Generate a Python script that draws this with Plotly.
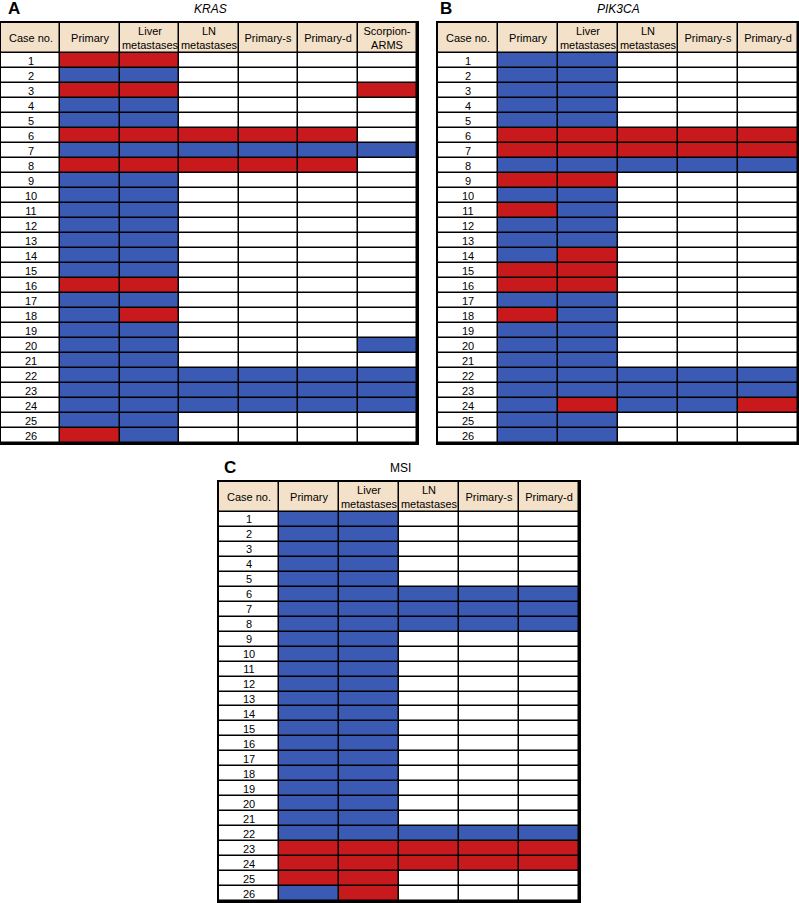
import plotly.graph_objects as go

# status per case: R = mutant/MSI-high (red), B = wild type/MSS (blue), - = not analysed (white)
cases = list(range(1, 27))

kras_cols = ["Case no.", "Primary", "Liver<br>metastases", "LN<br>metastases",
             "Primary-s", "Primary-d", "Scorpion-<br>ARMS"]
kras_status = ["RR----", "BB----", "RR---R", "BB----", "BB----", "RRRRR-",
               "BBBBBB", "RRRRR-", "BB----", "BB----", "BB----", "BB----",
               "BB----", "BB----", "BB----", "RR----", "BB----", "BR----",
               "BB----", "BB---B", "BB----", "BBBBBB", "BBBBBB", "BBBBBB",
               "BB----", "RB----"]

pik3ca_cols = ["Case no.", "Primary", "Liver<br>metastases", "LN<br>metastases",
               "Primary-s", "Primary-d"]
pik3ca_status = ["BB---", "BB---", "BB---", "BB---", "BB---", "RRRRR",
                 "RRRRR", "BBBBB", "RR---", "BB---", "RB---", "BB---",
                 "BB---", "BR---", "RR---", "RR---", "BB---", "RB---",
                 "BB---", "BB---", "BB---", "BBBBB", "BBBBB", "BRBBR",
                 "BB---", "BB---"]

msi_cols = ["Case no.", "Primary", "Liver<br>metastases", "LN<br>metastases",
            "Primary-s", "Primary-d"]
msi_status = ["BB---", "BB---", "BB---", "BB---", "BB---", "BBBBB",
              "BBBBB", "BBBBB", "BB---", "BB---", "BB---", "BB---",
              "BB---", "BB---", "BB---", "BB---", "BB---", "BB---",
              "BB---", "BB---", "BB---", "BBBBB", "RRRRR", "RRRRR",
              "RR---", "BR---"]

W, H = 799, 903
RED, BLUE, WHITE, BEIGE = "#c8191d", "#3a5ab4", "#ffffff", "#f4e1c9"
FONT = "Liberation Sans, Arial"
code = {"B": 0, "R": 1, "-": 2}
scale = [[0, BLUE], [0.1667, BLUE], [0.1667, RED], [0.5, RED],
         [0.5, WHITE], [0.8333, WHITE], [0.8333, BEIGE], [1, BEIGE]]

# pixel boxes of each table: (left, top, right, bottom)
panels = [
    (kras_cols, kras_status, (1, 23, 417, 443)),
    (pik3ca_cols, pik3ca_status, (438, 23, 798, 443)),
    (msi_cols, msi_status, (219, 482, 579, 901)),
]

fig = go.Figure()
y_edges = [0] + list(range(2, 29))

for k, (cols, status, box) in enumerate(panels):
    z = [[3] * len(cols)]
    text = [cols]
    for i, row in enumerate(status):
        z.append([2] + [code[c] for c in row])
        text.append([str(cases[i])] + [""] * len(row))
    sfx = "" if k == 0 else str(k + 1)
    fig.add_trace(go.Heatmap(
        z=z, text=text, texttemplate="%{text}", y=y_edges,
        x=list(range(len(cols))),
        textfont=dict(size=11, color="black", family=FONT),
        colorscale=scale, zmin=0, zmax=3, showscale=False,
        xgap=1.5, ygap=1.5, hoverinfo="skip",
        xaxis="x" + sfx, yaxis="y" + sfx,
    ))
    l, t, r, b = box
    axis = dict(showgrid=False, zeroline=False, showticklabels=False, ticks="",
                showline=True, mirror=True, linewidth=1.5, linecolor="black")
    fig.update_layout(**{
        "xaxis" + sfx: dict(axis, domain=[l / W, r / W], range=[-0.5, len(cols) - 0.5],
                            anchor="y" + sfx),
        "yaxis" + sfx: dict(axis, domain=[1 - b / H, 1 - t / H], range=[28, 0],
                            anchor="x" + sfx),
    })

labels = [("A", 6, 9), ("B", 438, 9), ("C", 222, 468)]
for s, x, y in labels:
    fig.add_annotation(text="<b>%s</b>" % s, x=x / W, y=1 - y / H, xref="paper", yref="paper",
                       xanchor="left", yanchor="middle", showarrow=False,
                       font=dict(size=17, color="black", family=FONT))

titles = [("<i>KRAS</i>", 210, 9), ("<i>PIK3CA</i>", 618, 9), ("MSI", 400, 468)]
for s, x, y in titles:
    fig.add_annotation(text=s, x=x / W, y=1 - y / H, xref="paper", yref="paper",
                       xanchor="center", yanchor="middle", showarrow=False,
                       font=dict(size=12, color="black", family=FONT))

fig.update_layout(
    width=W, height=H,
    margin=dict(l=0, r=0, t=0, b=0),
    plot_bgcolor="black", paper_bgcolor="white",
    showlegend=False,
)

fig.write_html("out.html", config={"displayModeBar": False},
               post_script="document.body.style.margin='0';")
